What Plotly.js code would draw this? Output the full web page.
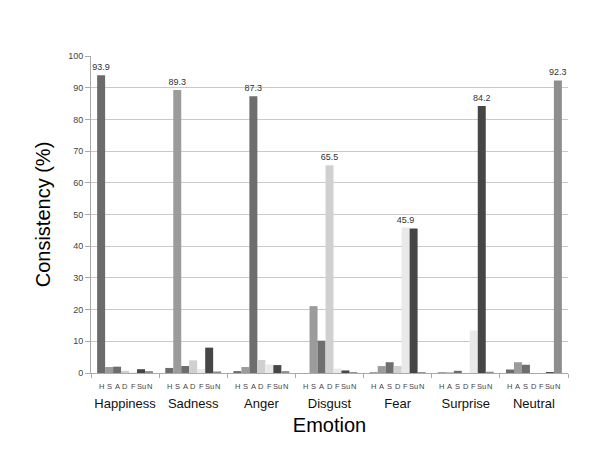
<!DOCTYPE html>
<html>
<head>
<meta charset="utf-8">
<script src="https://cdn.plot.ly/plotly-3.0.1.min.js"></script>
<style>html,body{margin:0;padding:0;background:#fff;}#chart{width:606px;height:455px;}</style>
</head>
<body>
<div id="chart"></div>
<script>
// Stimulus emotions (groups)
const emotions = ["Happiness", "Sadness", "Anger", "Disgust", "Fear", "Surprise", "Neutral"];
// Response series (bars within each group)
const seriesNames = ["H", "S", "A", "D", "F", "Su", "N"];
const valH  = [93.9, 1.6, 0.6, 0.0, 0.2, 0.2, 1.1];
const valS  = [1.9, 89.3, 1.9, 21.1, 2.2, 0.2, 3.4];
const valA  = [2.0, 2.2, 87.3, 10.2, 3.4, 0.7, 2.6];
const valD  = [0.7, 4.0, 4.1, 65.5, 2.2, 0.0, 0.0];
const valF  = [0.2, 1.2, 2.7, 1.4, 45.9, 13.4, 0.0];
const valSu = [1.2, 8.0, 2.5, 0.8, 45.6, 84.2, 0.3];
const valN  = [0.6, 0.5, 0.6, 0.3, 0.3, 0.4, 92.3];
// Sub-labels printed under each group's bars
const subLabels = [
  ["H", "S", "A", "D", "F", "Su", "N"],
  ["H", "S", "A", "D", "F", "Su", "N"],
  ["H", "S", "A", "D", "F", "Su", "N"],
  ["H", "S", "A", "D", "F", "Su", "N"],
  ["H", "A", "S", "D", "F", "Su", "N"],
  ["H", "A", "S", "D", "F", "Su", "N"],
  ["H", "A", "S", "D", "F", "Su", "N"]
];

const seriesValues = [valH, valS, valA, valD, valF, valSu, valN];
const colors = ["#6b6b6b", "#9b9b9b", "#6e6e6e", "#d0d0d0", "#e9e9e9", "#464646", "#8e8e8e"];

// label only the maximum value of each group
const groupMax = emotions.map((e, g) => Math.max(...seriesValues.map(s => s[g])));

const traces = seriesValues.map((vals, i) => ({
  type: "bar",
  name: seriesNames[i],
  x: emotions,
  y: vals,
  marker: {color: colors[i]},
  text: vals.map((v, g) => v === groupMax[g] ? v.toFixed(1) : ""),
  textposition: "outside",
  constraintext: "none",
  textfont: {size: 9, color: "#333", family: "Liberation Sans, Arial, sans-serif"},
  cliponaxis: false,
  hoverinfo: "x+y+name"
}));

const bargap = 0.18;
const plotW = 606 - 91 - 38;
const catW = plotW / emotions.length;
const barW = catW * (1 - bargap) / seriesNames.length;

const annotations = [];
emotions.forEach((e, g) => {
  subLabels[g].forEach((lab, i) => {
    annotations.push({
      x: e, xref: "x", y: 0, yref: "paper",
      xshift: (i - 3) * barW, yshift: -13,
      text: lab, showarrow: false,
      font: {size: 7.5, color: "#444", family: "Liberation Sans, Arial, sans-serif"},
      xanchor: "center", yanchor: "middle"
    });
  });
});

const layout = {
  width: 606, height: 455,
  margin: {l: 91, r: 38, t: 56, b: 82},
  paper_bgcolor: "#fff", plot_bgcolor: "#fff",
  barmode: "group", bargap: bargap, bargroupgap: 0,
  showlegend: false,
  font: {family: "Liberation Sans, Arial, sans-serif", color: "#000"},
  xaxis: {
    type: "category",
    title: {text: "Emotion", font: {size: 20, color: "#000"}, standoff: 8},
    tickfont: {size: 13, color: "#111"},
    tickangle: 0,
    showline: true, linecolor: "#aaa", linewidth: 1,
    ticks: "outside", tickson: "boundaries", ticklen: 4, tickcolor: "#aaa",
    ticklabelstandoff: 18,
    showgrid: false, zeroline: false
  },
  yaxis: {
    title: {text: "Consistency (%)", font: {size: 20, color: "#000"}, standoff: 12},
    range: [0, 100], dtick: 10, tick0: 0,
    tickfont: {size: 9, color: "#444"},
    showline: true, linecolor: "#aaa", linewidth: 1,
    ticks: "outside", ticklen: 5, tickcolor: "#aaa",
    showgrid: true, gridcolor: "#c9c9c9", gridwidth: 1,
    zeroline: false
  },
  annotations: annotations
};

Plotly.newPlot("chart", traces, layout, {displayModeBar: false, staticPlot: true});
</script>
</body>
</html>
